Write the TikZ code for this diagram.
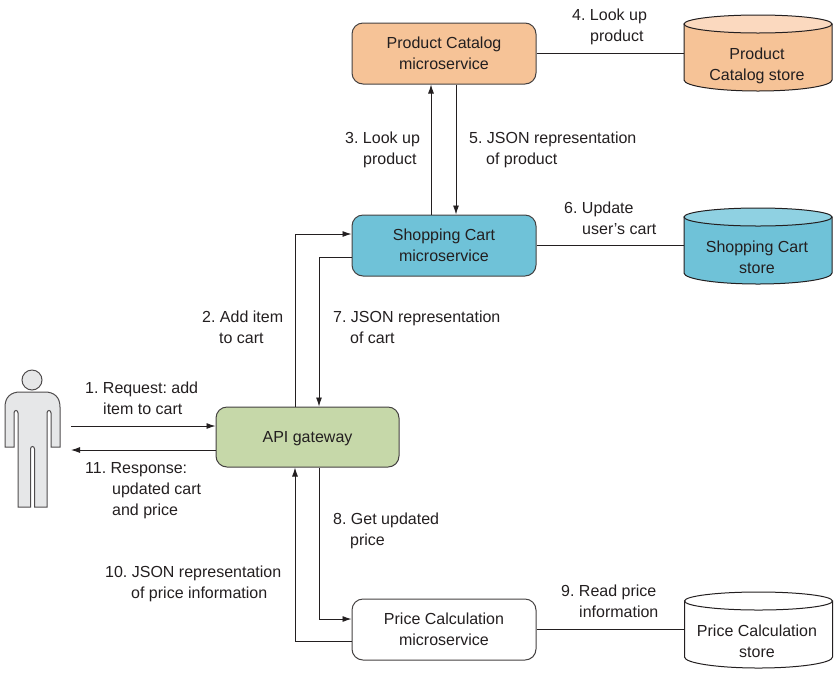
\documentclass[tikz,border=0pt]{standalone}
\usepackage{fontspec}
\setmainfont{Liberation Sans}
\usetikzlibrary{arrows.meta}
\definecolor{ink}{HTML}{231F20}
\definecolor{catfill}{HTML}{F6C397}
\definecolor{cattop}{HTML}{FBD9BF}
\definecolor{cartfill}{HTML}{6FC2D8}
\definecolor{carttop}{HTML}{8FD1E2}
\definecolor{gwfill}{HTML}{C6D8A9}
\definecolor{personfill}{HTML}{E6E7E8}
\newcommand{\storeshape}[5]{%
  % name, cx, cy, body colour, top colour
  \draw[line width=1pt,draw=ink,fill=#4] (#2-74,#3-29) -- (#2-74,#3+27) arc[start angle=180,end angle=360,x radius=74,y radius=-11] -- (#2+74,#3-29) -- cycle;
  \draw[line width=1pt,draw=ink,fill=#5] (#2,#3-29) ellipse[x radius=74,y radius=9];
  \node[storetext] (#1) at (#2,#3) {};
}
\tikzset{
  x=1pt,y=-1pt,
  every node/.style={font=\fontsize{16}{21}\selectfont,text=ink},
  svcbox/.style={draw=ink!85,line width=1pt,rounded corners=11pt,minimum width=184pt,minimum height=61pt,align=center,inner sep=0pt},
  storetext/.style={minimum width=148pt,minimum height=76pt,inner sep=0pt},
  storelabel/.style={align=center,inner sep=0pt},
  conn/.style={draw=ink,line width=0.9pt,-{Latex[length=9pt,width=6pt]}},
  plainline/.style={draw=ink,line width=0.9pt},
  lbl/.style={anchor=west,align=left,inner sep=0pt},
  personshape/.style={draw=ink!80,line width=1pt,fill=personfill}
}
\begin{document}
\begin{tikzpicture}
\frenchspacing
\useasboundingbox (0,0) rectangle (837,673);
% boxes
\node[svcbox,fill=catfill] (cat) at (444,53.5) {Product Catalog\\microservice};
\node[svcbox,fill=cartfill] (cart) at (444,245.5) {Shopping Cart\\microservice};
\node[svcbox,fill=gwfill,minimum width=183pt,minimum height=60pt] (gw) at (307.5,437) {\raisebox{-5.5pt}[0pt][0pt]{API gateway}};
\node[svcbox,fill=white] (price) at (444,629.5) {Price Calculation\\microservice};
% stores
\storeshape{catstore}{758}{53}{catfill}{cattop}
\storeshape{cartstore}{758}{246}{cartfill}{carttop}
\storeshape{pricestore}{758.5}{630}{white}{white}
\node[storelabel] (catstoretext) at (757,65.5) {Product\\Catalog store};
\node[storelabel] (cartstoretext) at (757,257) {Shopping Cart\\store};
\node[storelabel] (pricestoretext) at (757,641) {Price Calculation\\store};
% person
\node[circle,draw=ink!80,line width=1pt,fill=personfill,minimum size=20pt,inner sep=0pt] (head) at (32,380) {};
\draw[personshape] (18,507) -- (18,413) arc[start angle=0,end angle=-180,x radius=2,y radius=2.5] -- (14,447) -- (5,447)
  -- (5,407) .. controls (5,397) and (11,392) .. (20,392) -- (45,392)
  .. controls (54,392) and (60,397) .. (60,407) -- (60,447) -- (51,447) -- (51,413) arc[start angle=0,end angle=-180,x radius=2,y radius=2.5]
  -- (47,507) -- (34.5,507) -- (34.5,449) arc[start angle=0,end angle=-180,x radius=2,y radius=2.5] -- (30.5,507) -- cycle;
\coordinate (pin) at (71,426);
\coordinate (pout) at (71,450);
% connectors
\draw[conn] (pin) -- (gw.west |- pin);
\draw[conn] (gw.west |- pout) -- (pout);
\draw[conn] ([xshift=-12.5pt]gw.north) |- ([yshift=11.5pt]cart.west);
\draw[conn] ([yshift=-11.5pt]cart.west) -| ([xshift=11.5pt]gw.north);
\draw[conn] ([xshift=-13pt]cart.north) -- ([xshift=-13pt]cat.south);
\draw[conn] ([xshift=12pt]cat.south) -- ([xshift=12pt]cart.north);
\draw[conn] ([xshift=11.5pt]gw.south) |- ([yshift=10.5pt]price.west);
\draw[conn] ([yshift=-11.5pt]price.west) -| ([xshift=-12.5pt]gw.south);
\draw[plainline] (cat.east) -- (catstore.west |- cat.east);
\draw[plainline] (cart.east) -- (cartstore.west |- cart.east);
\draw[plainline] (price.east) -- (pricestore.west |- price.east);
% labels
\node[lbl] (l1) at (85,398.5) {1. Request: add\\\hspace*{18pt}item to cart};
\node[lbl] (l2) at (202,327) {2. Add item\\\hspace*{17pt}to cart};
\node[lbl] (l3) at (345,149.5) {3. Look up\\\hspace*{18pt}product};
\node[lbl] (l4) at (572,26.5) {4. Look up\\\hspace*{18pt}product};
\node[lbl] (l5) at (469,149.5) {5. JSON representation\\\hspace*{17pt}of product};
\node[lbl] (l6) at (564,218.5) {6. Update\\\hspace*{18pt}user’s cart};
\node[lbl] (l7) at (333,327) {7. JSON representation\\\hspace*{17pt}of cart};
\node[lbl] (l8) at (333,531) {8. Get updated\\\hspace*{17pt}price};
\node[lbl] (l9) at (561,601.5) {9. Read price\\\hspace*{18pt}information};
\node[lbl] (l10) at (105,584) {10. JSON representation\\\hspace*{26pt}of price information};
\node[lbl] (l11) at (85,491) {11. Response:\\\hspace*{27pt}updated cart\\\hspace*{27pt}and price};
\end{tikzpicture}
\end{document}
